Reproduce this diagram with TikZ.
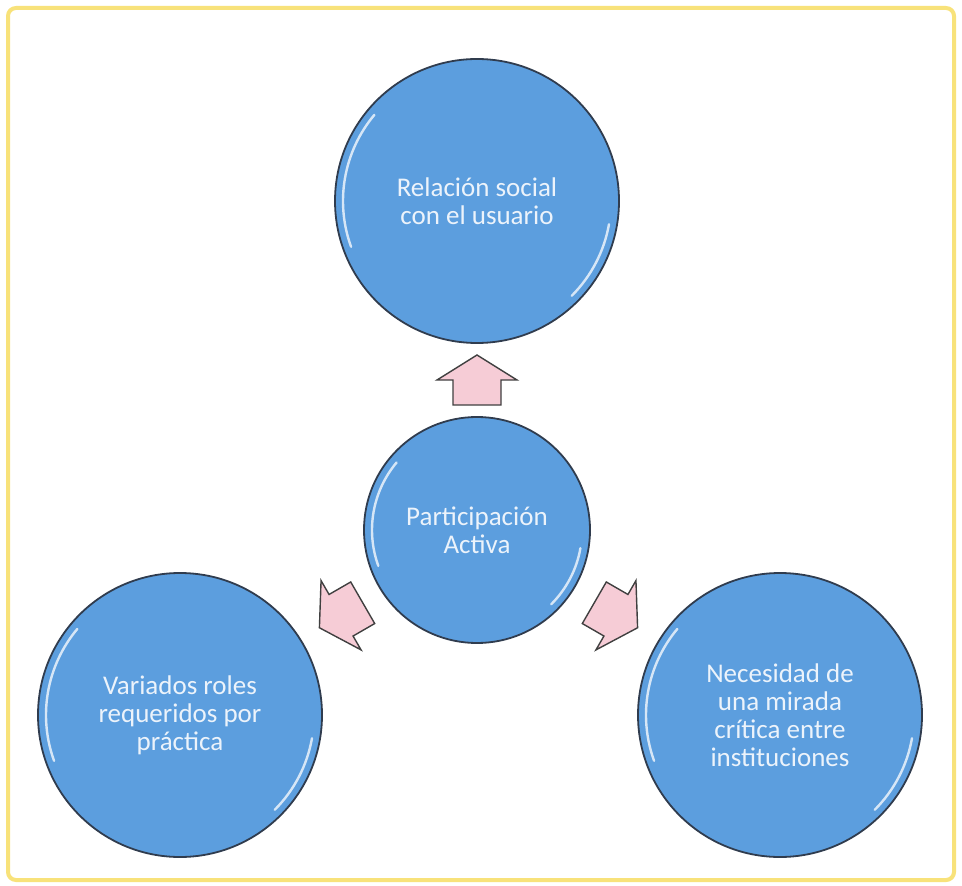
\documentclass[tikz,border=0pt]{standalone}
\usepackage{fontspec}
\setmainfont{Carlito}
\usetikzlibrary{calc}

\definecolor{frameyellow}{RGB}{248,226,122}
\definecolor{discblue}{RGB}{92,158,222}
\definecolor{discline}{RGB}{48,60,78}
\definecolor{arrowpink}{RGB}{246,204,214}
\definecolor{arrowline}{RGB}{64,64,64}
\definecolor{labelwhite}{RGB}{236,243,251}

\tikzset{
  disc/.style={circle,draw=discline,line width=0.9pt,fill=discblue,text=labelwhite,
    align=center,font=\fontsize{13.5}{14}\selectfont,inner sep=0pt},
  bigdisc/.style={disc,minimum size=142pt},
  smalldisc/.style={disc,minimum size=113pt},
  gloss/.style={white,line width=1.2pt,opacity=0.75,line cap=round},
  blockarr/.pic={\filldraw[fill=arrowpink,draw=arrowline,line width=0.7pt]
    (-25,-24) -- (0,-24) -- (0,-40) -- (25,0) -- (0,40) -- (0,24) -- (-25,24) -- cycle;}
}

\begin{document}
\begin{tikzpicture}[x=0.5pt,y=0.5pt]
\useasboundingbox (0,0) rectangle (962,885);
%frame
\draw[frameyellow,line width=2pt,rounded corners=4pt] (8,5) rectangle (954,877);
%discs
\node[bigdisc] (rel) at (477,684) {Relación social\\con el usuario};
\node[smalldisc] (part) at (477,355) {Participación\\Activa};
\node[bigdisc] (roles) at (180,170) {Variados roles\\requeridos por\\práctica};
\node[bigdisc] (mirada) at (780,170) {Necesidad de\\una mirada\\crítica entre\\instituciones};
%highlights
\foreach \n/\r in {rel/134,roles/134,mirada/134,part/105}{
  \draw[gloss] ([shift={(140:\r)}]\n.center) arc[start angle=140,end angle=200,radius=\r];
  \draw[gloss] ([shift={(-10:\r)}]\n.center) arc[start angle=-10,end angle=-45,radius=\r];
}
%block arrows
\path ($(part.north)!0.5!(rel.south)$) pic[rotate=90] {blockarr};
\path ($(part.210)!0.5!(roles.30)$) pic[rotate=210] {blockarr};
\path ($(part.330)!0.5!(mirada.150)$) pic[rotate=-30] {blockarr};
\end{tikzpicture}
\end{document}
